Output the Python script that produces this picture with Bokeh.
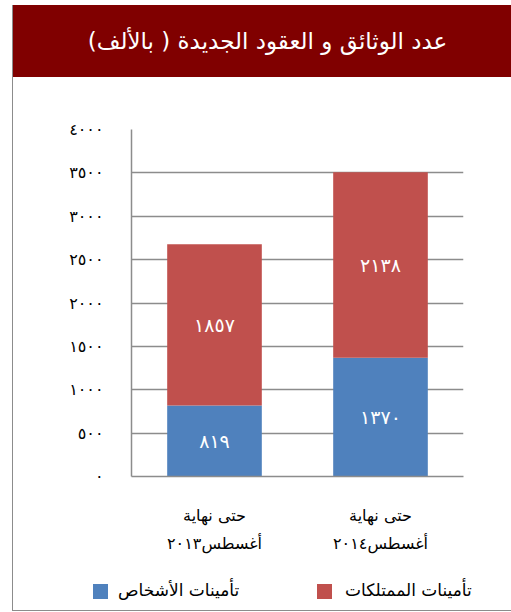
from bokeh.plotting import figure
from bokeh.models import ColumnDataSource, FactorRange, Range1d, Div
from bokeh.layouts import column, row
from bokeh.core.properties import value
from bokeh.embed import file_html
from bokeh.resources import INLINE

# ---- data ----
title_text = "عدد الوثائق و العقود الجديدة ( بالألف)"
categories = ["حتى نهاية\nأغسطس٢٠١٣", "حتى نهاية\nأغسطس٢٠١٤"]
personal = [819, 1370]          # تأمينات الأشخاص
prop = [1857, 2138]             # تأمينات الممتلكات
series_names = ["تأمينات الأشخاص", "تأمينات الممتلكات"]
y_ticks = [0, 500, 1000, 1500, 2000, 2500, 3000, 3500, 4000]

FONT = "DejaVu Sans"
BLUE = "#4F81BD"
RED = "#C0504D"
DARK = "#800000"
BORDER = "#8c8c8c"
series_colors = [BLUE, RED]

AR_DIGITS = str.maketrans("0123456789", "٠١٢٣٤٥٦٧٨٩")


def ar(n):
    return str(n).translate(AR_DIGITS)


W = 498

# ---- title bar ----
title_div = Div(
    text=(f'<div dir="rtl" style="width:{W}px;height:72px;line-height:72px;'
          f'text-align:center;padding-left:11px;box-sizing:border-box;'
          f'color:white;font-family:\'{FONT}\';font-size:23px;'
          f'white-space:nowrap;">{title_text}</div>'),
    width=W, height=72, margin=(5, 0, 0, 0),
    styles={"background-color": DARK})

# ---- main chart ----
src = ColumnDataSource(dict(cat=categories, personal=personal, prop=prop))

p = figure(width=W, height=502, x_range=FactorRange(*categories),
           y_range=Range1d(0, 4000), toolbar_location=None,
           output_backend="svg", margin=(0, 0, 0, 0),
           min_border_top=52, min_border_left=118, min_border_right=48,
           min_border_bottom=103)
p.outline_line_color = None
p.background_fill_color = "white"
p.border_fill_color = "white"

rs = p.vbar_stack(["personal", "prop"], x="cat", width=0.57, color=series_colors,
                  line_color=None, source=src)

# data labels
lab_x, lab_y, lab_t = [], [], []
for c, a, b in zip(categories, personal, prop):
    lab_x += [c, c]
    lab_y += [a / 2, a + b / 2]
    lab_t += [ar(a), ar(b)]
p.text(x=lab_x, y=lab_y, text=lab_t, text_align="center", text_baseline="middle",
       text_color="white", text_font=value(FONT), text_font_size="19px")

# axes
p.yaxis.ticker = y_ticks
p.yaxis.major_label_overrides = {v: ar(v) for v in y_ticks}
p.yaxis.major_tick_out = 0
p.yaxis.major_tick_in = 0
p.yaxis.minor_tick_out = 0
p.yaxis.minor_tick_in = 0
p.yaxis.axis_line_color = BORDER
p.yaxis.axis_line_width = 1.5
p.yaxis.major_label_standoff = 28
p.yaxis.major_label_text_font = FONT
p.yaxis.major_label_text_font_size = "16px"
p.yaxis.major_label_text_color = "black"

p.xaxis.major_tick_out = 0
p.xaxis.major_tick_in = 0
p.xaxis.axis_line_color = BORDER
p.xaxis.axis_line_width = 1.5
p.xaxis.major_label_standoff = 29
p.xaxis.major_label_text_font = FONT
p.xaxis.major_label_text_font_size = "16px"
p.xaxis.major_label_text_line_height = 1.5
p.xaxis.major_label_text_color = "black"

p.xgrid.visible = False
p.ygrid.grid_line_color = BORDER
p.ygrid.grid_line_width = 1.5

# ---- legend (HTML, right-to-left order as in the original) ----
leg_pos = [(80, 105), (304, 332)]   # (square left, label left) in px
items = ""
for (sq, tx), name, col in zip(leg_pos, series_names, series_colors):
    items += (f'<span style="position:absolute;left:{sq}px;top:5px;width:15px;'
              f'height:15px;background:{col};"></span>'
              f'<span style="position:absolute;left:{tx}px;top:0px;line-height:23px;'
              f'font-family:\'{FONT}\';font-size:17px;color:black;'
              f'white-space:nowrap;">{name}</span>')
legend_div = Div(
    text=f'<div style="position:relative;width:{W}px;height:31px;">{items}</div>',
    width=W, height=31, margin=(0, 0, 0, 0))

bottom_line = Div(text="", width=W, height=1, margin=(0, 0, 0, 0),
                  styles={"background-color": BORDER})
left_line = Div(text="", width=1, height=606, margin=(5, 0, 0, 12),
                styles={"background-color": BORDER})

layout = row(left_line, column(title_div, p, legend_div, bottom_line, spacing=0),
             spacing=0)

open("out.html", "w").write(file_html(layout, INLINE))
